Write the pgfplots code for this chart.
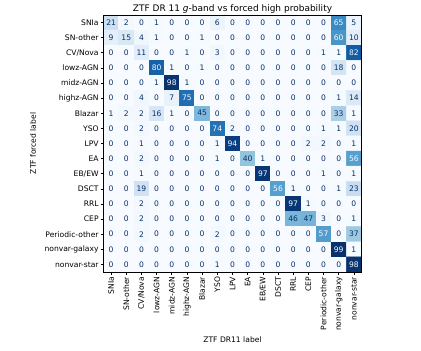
\documentclass[border=0pt]{standalone}
\usepackage{pgfplots}
\pgfplotsset{compat=1.18}
\usepackage{pgfplotstable}
\usepackage{fontspec}
\setmainfont{DejaVu Sans}
\definecolor{tdark}{HTML}{08306B}
\definecolor{tlight}{HTML}{F7FBFF}
\pgfplotstableread{
x y v
0 0 21
1 0 2
2 0 0
3 0 1
4 0 0
5 0 0
6 0 0
7 0 6
8 0 0
9 0 0
10 0 0
11 0 0
12 0 0
13 0 0
14 0 0
15 0 65
16 0 5
0 1 9
1 1 15
2 1 4
3 1 1
4 1 0
5 1 0
6 1 1
7 1 0
8 1 0
9 1 0
10 1 0
11 1 0
12 1 0
13 1 0
14 1 0
15 1 60
16 1 10
0 2 0
1 2 0
2 2 11
3 2 0
4 2 0
5 2 1
6 2 0
7 2 3
8 2 0
9 2 0
10 2 0
11 2 0
12 2 0
13 2 0
14 2 1
15 2 1
16 2 82
0 3 0
1 3 0
2 3 0
3 3 80
4 3 1
5 3 0
6 3 1
7 3 0
8 3 0
9 3 0
10 3 0
11 3 0
12 3 0
13 3 0
14 3 0
15 3 18
16 3 0
0 4 0
1 4 0
2 4 0
3 4 1
4 4 98
5 4 1
6 4 0
7 4 0
8 4 0
9 4 0
10 4 0
11 4 0
12 4 0
13 4 0
14 4 0
15 4 0
16 4 0
0 5 0
1 5 0
2 5 4
3 5 0
4 5 7
5 5 75
6 5 0
7 5 0
8 5 0
9 5 0
10 5 0
11 5 0
12 5 0
13 5 0
14 5 0
15 5 1
16 5 14
0 6 1
1 6 2
2 6 2
3 6 16
4 6 1
5 6 0
6 6 45
7 6 0
8 6 0
9 6 0
10 6 0
11 6 0
12 6 0
13 6 0
14 6 0
15 6 33
16 6 1
0 7 0
1 7 0
2 7 2
3 7 0
4 7 0
5 7 0
6 7 0
7 7 74
8 7 2
9 7 0
10 7 0
11 7 0
12 7 0
13 7 0
14 7 1
15 7 1
16 7 20
0 8 0
1 8 0
2 8 1
3 8 0
4 8 0
5 8 0
6 8 0
7 8 1
8 8 94
9 8 0
10 8 0
11 8 0
12 8 0
13 8 2
14 8 2
15 8 0
16 8 1
0 9 0
1 9 0
2 9 2
3 9 0
4 9 0
5 9 0
6 9 0
7 9 1
8 9 0
9 9 40
10 9 1
11 9 0
12 9 0
13 9 0
14 9 0
15 9 0
16 9 56
0 10 0
1 10 0
2 10 1
3 10 0
4 10 0
5 10 0
6 10 0
7 10 0
8 10 0
9 10 0
10 10 97
11 10 0
12 10 0
13 10 0
14 10 1
15 10 0
16 10 1
0 11 0
1 11 0
2 11 19
3 11 0
4 11 0
5 11 0
6 11 0
7 11 0
8 11 0
9 11 0
10 11 0
11 11 56
12 11 1
13 11 0
14 11 0
15 11 1
16 11 23
0 12 0
1 12 0
2 12 2
3 12 0
4 12 0
5 12 0
6 12 0
7 12 0
8 12 0
9 12 0
10 12 0
11 12 0
12 12 97
13 12 1
14 12 0
15 12 0
16 12 0
0 13 0
1 13 0
2 13 2
3 13 0
4 13 0
5 13 0
6 13 0
7 13 0
8 13 0
9 13 0
10 13 0
11 13 0
12 13 46
13 13 47
14 13 3
15 13 0
16 13 1
0 14 0
1 14 0
2 14 2
3 14 0
4 14 0
5 14 0
6 14 0
7 14 2
8 14 0
9 14 0
10 14 0
11 14 0
12 14 0
13 14 0
14 14 57
15 14 0
16 14 37
0 15 0
1 15 0
2 15 0
3 15 0
4 15 0
5 15 0
6 15 0
7 15 0
8 15 0
9 15 0
10 15 0
11 15 0
12 15 0
13 15 0
14 15 0
15 15 99
16 15 1
0 16 0
1 16 0
2 16 0
3 16 0
4 16 0
5 16 0
6 16 0
7 16 1
8 16 0
9 16 0
10 16 0
11 16 0
12 16 0
13 16 0
14 16 0
15 16 0
16 16 98
}\cm
\begin{document}
\begin{tikzpicture}
\useasboundingbox (0,0) rectangle (421pt,351pt);
\begin{axis}[
  at={(103.5pt,79pt)}, anchor=south west,
  scale only axis, width=258pt, height=257pt,
  xmin=-0.5, xmax=16.5, ymin=-0.5, ymax=16.5, y dir=reverse,
  enlargelimits=false,
  /pgf/number format/assume math mode=true,
  colormap={blues}{rgb255=(247,251,255) rgb255=(222,235,247) rgb255=(198,219,239) rgb255=(158,202,225) rgb255=(107,174,214) rgb255=(66,146,198) rgb255=(33,113,181) rgb255=(8,81,156) rgb255=(8,48,107)},
  point meta min=0, point meta max=99,
  xtick={0,...,16}, ytick={0,...,16},
  xticklabels={SNIa,SN-other,CV/Nova,lowz-AGN,midz-AGN,highz-AGN,Blazar,YSO,LPV,EA,EB/EW,DSCT,RRL,CEP,Periodic-other,nonvar-galaxy,nonvar-star},
  yticklabels={SNIa,SN-other,CV/Nova,lowz-AGN,midz-AGN,highz-AGN,Blazar,YSO,LPV,EA,EB/EW,DSCT,RRL,CEP,Periodic-other,nonvar-galaxy,nonvar-star},
  x tick label style={rotate=90, anchor=east, inner sep=2pt},
  y tick label style={anchor=east, inner sep=2pt},
  tick align=outside, major tick length=2.7pt,
  tick style={black, line width=0.6pt},
  xtick pos=bottom, ytick pos=left,
  tick label style={font=\fontsize{7.6}{8.5}\selectfont},
  label style={font=\fontsize{7.6}{8.5}\selectfont},
  xlabel style={at={(axis description cs:0.5,-0.2646)}, anchor=center},
  ylabel style={at={(axis description cs:-0.273,0.5)}, anchor=center},
  axis line style={line width=0.6pt},
  title style={font=\fontsize{9}{10}\selectfont, at={(axis description cs:0.5,1.0)}, anchor=base, yshift=-2.5pt, inner sep=0pt},
  title={ZTF DR 11 \textit{g}-band vs forced high probability},
  xlabel={ZTF DR11 label}, ylabel={ZTF forced label},
  axis on top,
]
\addplot[matrix plot*, mesh/cols=17, point meta=explicit] table[x=x,y=y,meta=v]{\cm};
\addplot[only marks, mark=none,
  restrict expr to domain={\thisrow{v}}{-1:49},
  point meta=\thisrow{v},
  nodes near coords,
  nodes near coords align=center,
  every node near coord/.append style={text=tdark, font=\fontsize{7.6}{8.5}\selectfont, anchor=center, inner sep=0pt}]
  table[x=x,y=y]{\cm};
\addplot[only marks, mark=none,
  restrict expr to domain={\thisrow{v}}{50:1000},
  point meta=\thisrow{v},
  nodes near coords,
  nodes near coords align=center,
  every node near coord/.append style={text=tlight, font=\fontsize{7.6}{8.5}\selectfont, anchor=center, inner sep=0pt}]
  table[x=x,y=y]{\cm};
\end{axis}
\end{tikzpicture}
\end{document}
